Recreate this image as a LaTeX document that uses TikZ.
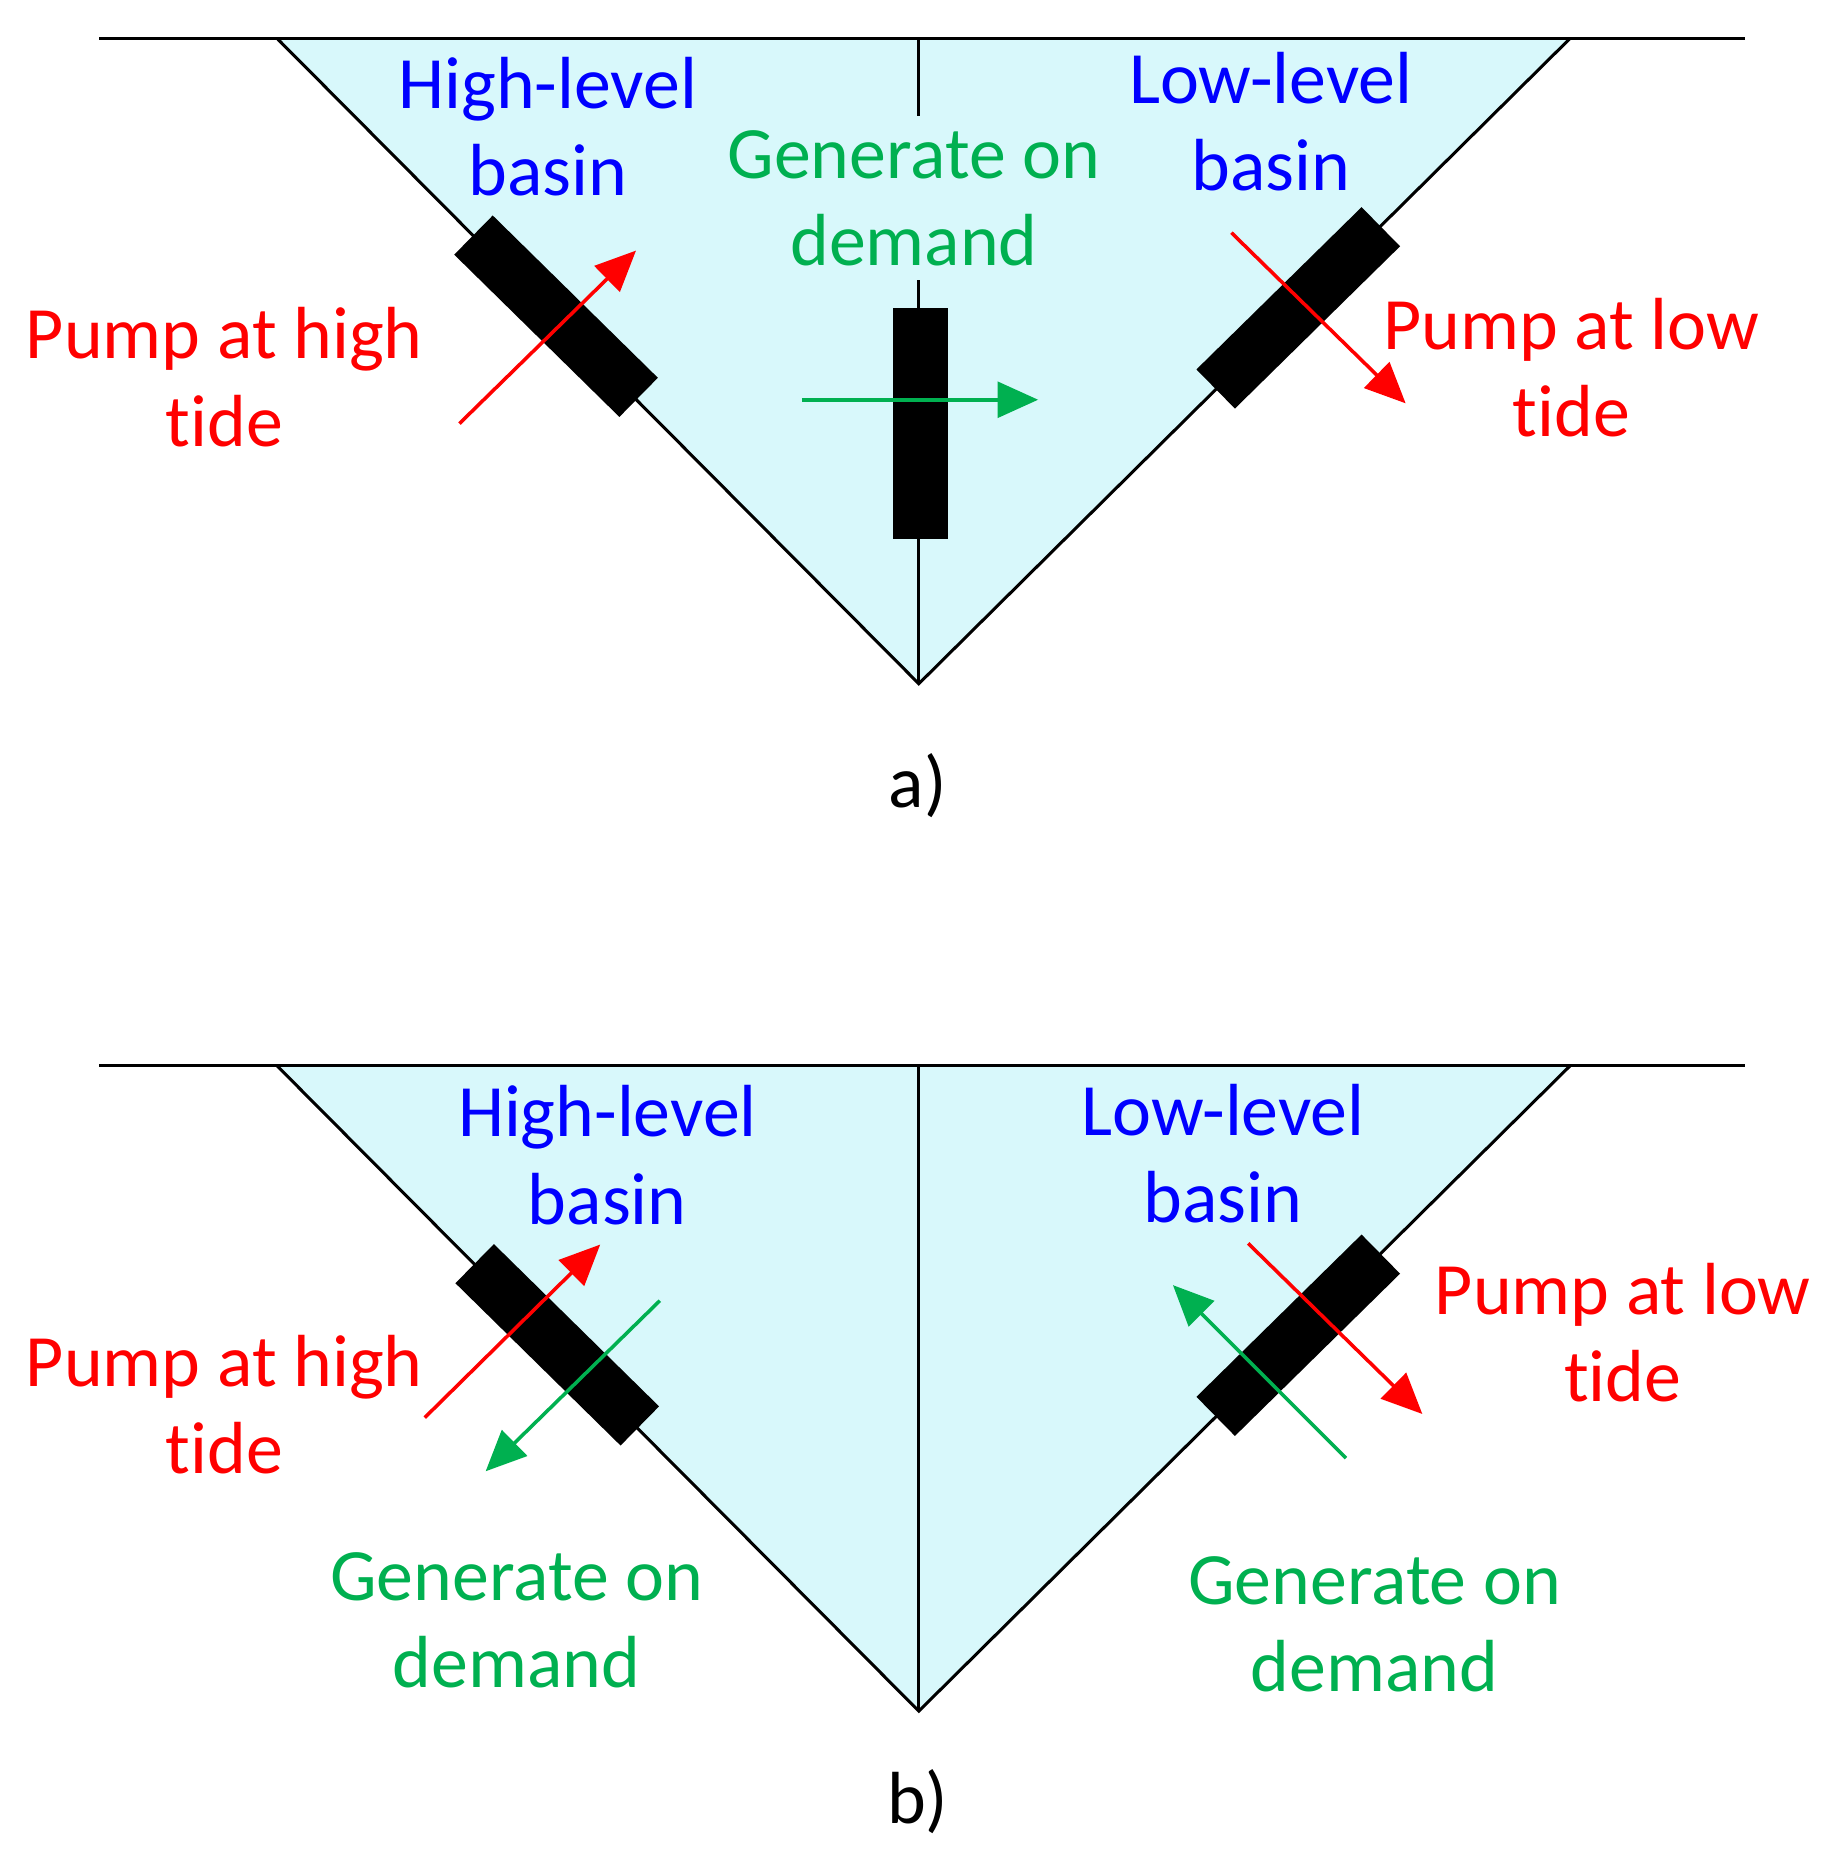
\documentclass[tikz,border=0pt]{standalone}
\usepackage{fontspec}
\setmainfont{Carlito}[Ligatures=NoCommon]
\usetikzlibrary{arrows.meta}
\definecolor{basin}{RGB}{216,248,251}
\definecolor{lblue}{RGB}{0,0,255}
\definecolor{lred}{RGB}{255,0,0}
\definecolor{lgreen}{RGB}{0,176,80}
\tikzset{
  edge/.style={line width=1.8pt, black},
  gate/.style={fill=black, draw=none, minimum width=4.85cm, minimum height=1.15cm, inner sep=0pt},
  flow/.style={line width=2.1pt, -{Triangle[length=0.85cm,width=0.75cm]}},
  pumpflow/.style={flow, lred},
  genflow/.style={flow, lgreen},
  lbl/.style={align=center, inner sep=0pt, font=\fontsize{44}{52}\selectfont},
  bluelbl/.style={lbl, text=lblue},
  redlbl/.style={lbl, text=lred},
  greenlbl/.style={lbl, text=lgreen},
  caption/.style={lbl, text=black}
}
\begin{document}
\begin{tikzpicture}[x=0.025cm, y=-0.025cm]
\useasboundingbox (0,0) rectangle (1537,1568);

% ---------------- panel a ----------------
\coordinate (aL) at (83,32);
\coordinate (aR) at (1462,32);
\coordinate (aTL) at (232,32);
\coordinate (aTR) at (1316,32);
\coordinate (aTC) at (770,32);
\coordinate (aA) at (770,573);
\fill[basin] (aTL) -- (aTR) -- (aA) -- cycle;
\draw[edge] (aL) -- (aR);
\draw[edge] (aTL) -- (aA) -- (aTR);
\draw[edge] (aTC) -- (aA);

\node[greenlbl, fill=basin, inner xsep=4pt, inner ysep=0.3cm] (agen) at (766,166) {Generate on\\demand};
\node[bluelbl] (ahigh) at (459,106) {High-level\\basin};
\node[bluelbl] (alow) at (1065,102) {Low-level\\basin};

\node[gate, rotate=-44.5] (agl) at (466,265) {};
\node[gate, rotate=90] (agc) at (771.5,355) {};
\node[gate, rotate=44.5] (agr) at (1088,258) {};

\coordinate (ap1s) at (385,355);
\coordinate (ap1e) at (533,210);
\draw[pumpflow] (ap1s) -- (ap1e);
\coordinate (ag1s) at (672,335);
\coordinate (ag1e) at (870,335);
\draw[genflow] (ag1s) -- (ag1e);
\coordinate (ap2s) at (1032,195);
\coordinate (ap2e) at (1178,338);
\draw[pumpflow] (ap2s) -- (ap2e);

\node[redlbl] (aph) at (188,316) {Pump at high\\tide};
\node[redlbl] (apl) at (1317,308) {Pump at low\\tide};
\node[caption] (acap) at (769,658) {a)};

% ---------------- panel b ----------------
\coordinate (bL) at (83,893);
\coordinate (bR) at (1462,893);
\coordinate (bTL) at (232,893);
\coordinate (bTR) at (1316,893);
\coordinate (bTC) at (770,893);
\coordinate (bA) at (770,1434);
\fill[basin] (bTL) -- (bTR) -- (bA) -- cycle;
\draw[edge] (bL) -- (bR);
\draw[edge] (bTL) -- (bA) -- (bTR);
\draw[edge] (bTC) -- (bA);

\node[bluelbl] (bhigh) at (509,968) {High-level\\basin};
\node[bluelbl] (blow) at (1025,967) {Low-level\\basin};

\node[gate, rotate=-44.5] (bgl) at (467,1127) {};
\node[gate, rotate=44.5] (bgr) at (1088,1119) {};

\coordinate (bp1s) at (356,1188);
\coordinate (bp1e) at (503,1043);
\draw[pumpflow] (bp1s) -- (bp1e);
\coordinate (bg1s) at (553,1090);
\coordinate (bg1e) at (407,1233);
\draw[genflow] (bg1s) -- (bg1e);
\coordinate (bp2s) at (1046,1042);
\coordinate (bp2e) at (1192,1185);
\draw[pumpflow] (bp2s) -- (bp2e);
\coordinate (bg2s) at (1128,1222);
\coordinate (bg2e) at (983,1077);
\draw[genflow] (bg2s) -- (bg2e);

\node[redlbl] (bph) at (188,1177) {Pump at high\\tide};
\node[redlbl] (bpl) at (1360,1117) {Pump at low\\tide};
\node[greenlbl] (bgenl) at (433,1358) {Generate on\\demand};
\node[greenlbl] (bgenr) at (1152,1361) {Generate on\\demand};
\node[caption] (bcap) at (769,1510) {b)};
\end{tikzpicture}
\end{document}
